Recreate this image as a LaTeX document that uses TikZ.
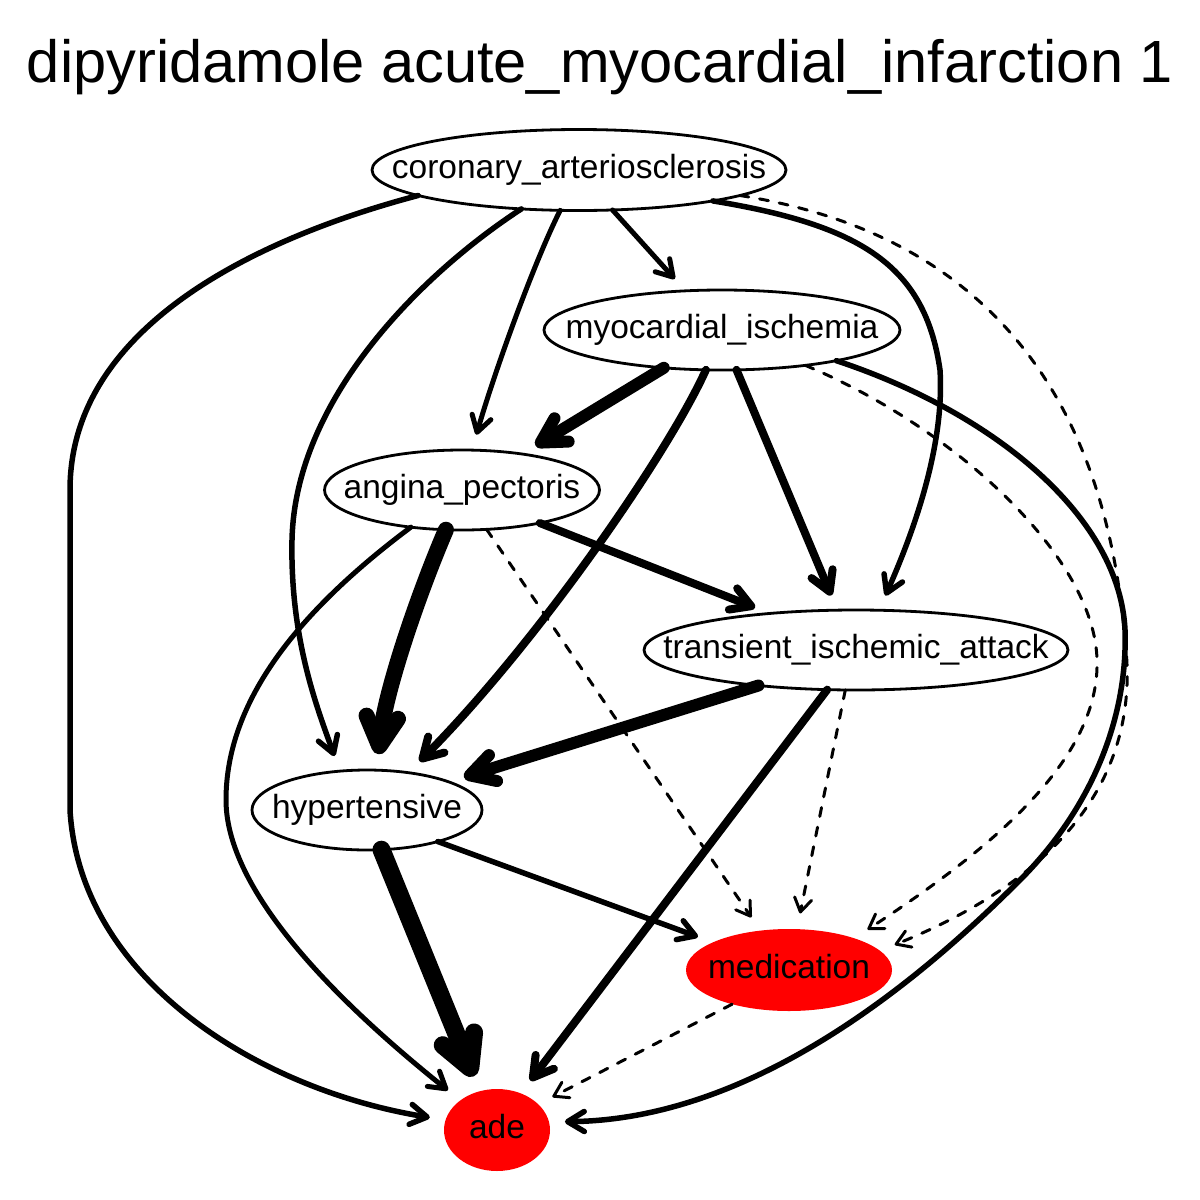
\documentclass[tikz,border=0pt]{standalone}
\usepackage{fontspec}
\setmainfont{Liberation Sans}
\usetikzlibrary{shapes.geometric,arrows.meta}
\tikzset{
  nd/.style={ellipse, draw, line width=2.8pt, fill=white, inner sep=0pt, outer sep=0pt,
    font=\fontsize{33.5}{40}\selectfont, text height=24.5pt, text depth=7pt},
  rednd/.style={nd, draw=none, fill=red},
  tip/.style={-{Straight Barb[length=10pt 1.2, width=14pt 1.1, round]}},
  ed/.style={line width=#1, tip, line cap=round, line join=round, shorten >=16pt},
  dsh/.style={line width=3pt, tip, line cap=round, dash pattern=on 9pt off 11pt, shorten >=16pt}
}
\newcommand{\lbl}[1]{\makebox[0pt]{#1}}
\begin{document}
\begin{tikzpicture}[x=1pt,y=-1pt]
\fill[white] (0,0) rectangle (1200,1200);
\useasboundingbox (0,0) rectangle (1200,1200);

\node[anchor=base, font=\fontsize{59.6}{70}\selectfont] (title) at (600,82) {dipyridamole acute\_myocardial\_infarction 1};

\node[nd, minimum width=414pt, minimum height=81pt] (cor) at (579,170) {\lbl{coronary\_arteriosclerosis}};
\node[nd, minimum width=356pt, minimum height=80pt] (myo) at (722,330) {\lbl{myocardial\_ischemia}};
\node[nd, minimum width=275pt, minimum height=80pt] (ang) at (462,490) {\lbl{angina\_pectoris}};
\node[nd, minimum width=424pt, minimum height=80pt] (tia) at (856,650) {\lbl{transient\_ischemic\_attack}};
\node[nd, minimum width=230pt, minimum height=80pt] (hyp) at (367,810) {\lbl{hypertensive}};
\node[rednd, minimum width=206pt, minimum height=82pt] (med) at (789,970) {\lbl{medication}};
\node[rednd, minimum width=106pt, minimum height=82pt] (ade) at (497,1130) {\lbl{ade}};

% coronary_arteriosclerosis
\draw[ed=5.5pt] (cor.189) .. controls (250,240) and (70,330) .. (70,490) -- (70,810) .. controls (80,980) and (260,1090) .. (ade.169);
\draw[ed=5.5pt] (cor.214) .. controls (420,275) and (295,400) .. (292,540) .. controls (290,640) and (318,710) .. (hyp.125);
\draw[ed=5pt] (cor.245) .. controls (535,260) and (495,370) .. (ang.76);
\draw[ed=5pt] (cor.310) -- (myo.133);
\draw[ed=5.5pt] (cor.347) .. controls (860,225) and (925,265) .. (940,370) .. controls (945,450) and (910,540) .. (tia.60);
\draw[dsh] (cor.351) .. controls (990,235) and (1105,400) .. (1125,640) .. controls (1140,760) and (1080,870) .. (med.12);
% myocardial_ischemia
\draw[ed=12pt] (myo.213) -- (ang.31);
\draw[ed=8pt] (myo.248) .. controls (670,450) and (540,640) .. (hyp.42);
\draw[ed=8pt] (myo.290) -- (tia.115);
\draw[dsh] (myo.337) .. controls (960,430) and (1095,560) .. (1097,660) .. controls (1100,760) and (990,850) .. (med.26);
\draw[ed=5.5pt] (myo.345) .. controls (1000,415) and (1120,520) .. (1125,630) .. controls (1128,720) and (1090,810) .. (1020,880) .. controls (930,970) and (760,1120) .. (ade.9);
% angina_pectoris
\draw[ed=16pt] (ang.248) .. controls (420,590) and (385,690) .. (hyp.76);
\draw[ed=8pt] (ang.337) -- (tia.157);
\draw[dsh] (ang.302) -- (med.126);
\draw[ed=5pt] (ang.216) .. controls (300,610) and (226,700) .. (226,800) .. controls (226,900) and (360,1020) .. (ade.141);
% transient_ischemic_attack
\draw[ed=12pt] (tia.200) -- (hyp.19);
\draw[ed=8pt] (tia.234) -- (ade.57);
\draw[dsh] (tia.255) -- (med.79);
% hypertensive
\draw[ed=5.5pt] (hyp.336) -- (med.160);
\draw[ed=18pt] (hyp.290) -- (ade.114);
% medication
\draw[dsh] (med.211) -- (ade.32);
\end{tikzpicture}
\end{document}
